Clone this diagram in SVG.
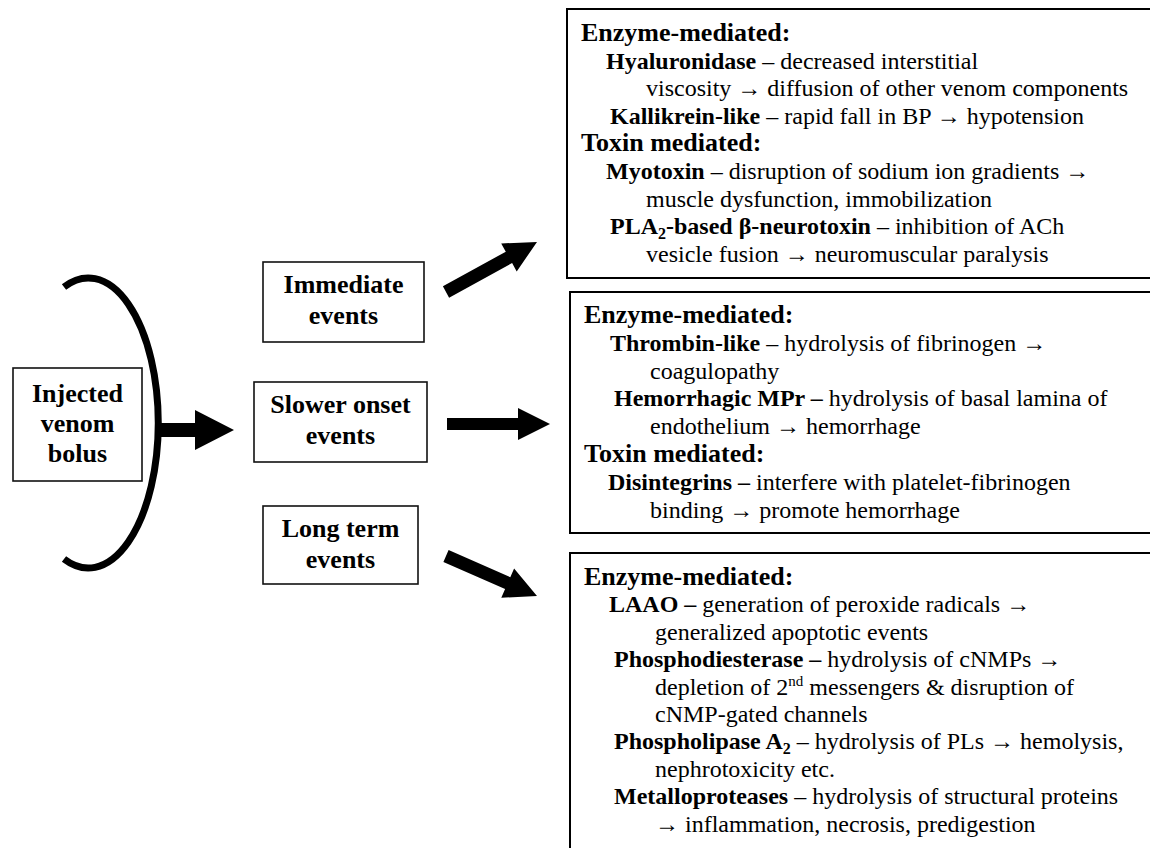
<svg xmlns="http://www.w3.org/2000/svg" width="1150" height="848" viewBox="0 0 1150 848" font-family="'Liberation Serif', Tinos, 'Times New Roman', 'DejaVu Serif', 'Noto Serif', serif">
<style>
text{font-family:'Liberation Serif', Tinos, 'Times New Roman', 'DejaVu Serif', 'Noto Serif', serif;fill:#000;}
.lbl{font-size:26px;font-weight:bold;text-anchor:middle;}
.hd{font-size:26px;font-weight:bold;}
.tx{font-size:24px;}
.b{font-weight:bold;}
.box{fill:#fff;stroke:#000;stroke-width:2;}
.bx{fill:#fff;stroke:#111;stroke-width:1.6;}
.arr{fill:#000;stroke:none;}
</style>
<rect width="1150" height="848" fill="#fff"/>
<g id="connectors">
<path d="M 64 287 A 70 145 0 1 1 64 559" fill="none" stroke="#000" stroke-width="7"/>
<polygon class="arr" points="155,423 195,423 195,410 234,430 195,450 195,437 155,437"/>
<polygon class="arr" points="442.9,286.3 505.8,251.7 501.2,243.4 537,242 516.7,271.4 512.1,263.1 449.1,297.7"/>
<polygon class="arr" points="447,418 518,418 518,408 550,424 518,440 518,430 447,430"/>
<polygon class="arr" points="448.6,550.1 510.3,577.2 514.1,568.5 537,596 501.3,597.8 505.1,589.1 443.4,562"/>
</g>
<g id="injected">
<rect class="bx" x="13" y="368" width="129" height="113"/>
<text class="lbl" x="77.5" y="402">Injected</text>
<text class="lbl" x="77.5" y="432">venom</text>
<text class="lbl" x="77.5" y="462">bolus</text>
</g>
<g id="immediate">
<rect class="bx" x="263" y="262" width="161" height="80"/>
<text class="lbl" x="343.5" y="293">Immediate</text>
<text class="lbl" x="343.5" y="324">events</text>
</g>
<g id="slower">
<rect class="bx" x="254" y="382" width="173" height="80"/>
<text class="lbl" x="340.5" y="413">Slower onset</text>
<text class="lbl" x="340.5" y="444">events</text>
</g>
<g id="longterm">
<rect class="bx" x="263" y="506" width="155" height="78"/>
<text class="lbl" x="340.5" y="537">Long term</text>
<text class="lbl" x="340.5" y="568">events</text>
</g>
<g id="immediate-effects">
<rect class="box" x="567" y="9" width="600" height="269"/>
<text class="hd" x="581" y="41">Enzyme-mediated:</text>
<text class="tx" x="606" y="68.6"><tspan class="b">Hyaluronidase</tspan> – decreased interstitial</text>
<text class="tx" x="646" y="96.2">viscosity → diffusion of other venom components</text>
<text class="tx" x="610" y="123.8"><tspan class="b">Kallikrein-like</tspan> – rapid fall in BP → hypotension</text>
<text class="hd" x="581" y="151.4">Toxin mediated:</text>
<text class="tx" x="606" y="179"><tspan class="b">Myotoxin</tspan> – disruption of sodium ion gradients →</text>
<text class="tx" x="646" y="206.6">muscle dysfunction, immobilization</text>
<text class="tx" x="610" y="234.2"><tspan class="b">PLA</tspan><tspan class="b" font-size="16" dy="5">2</tspan><tspan class="b" dy="-5">-based β-neurotoxin</tspan> – inhibition of ACh</text>
<text class="tx" x="646" y="261.8">vesicle fusion → neuromuscular paralysis</text>
</g>
<g id="slower-effects">
<rect class="box" x="570" y="292" width="600" height="241"/>
<text class="hd" x="584" y="323">Enzyme-mediated:</text>
<text class="tx" x="610" y="351"><tspan class="b">Thrombin-like</tspan> – hydrolysis of fibrinogen →</text>
<text class="tx" x="650" y="378.5">coagulopathy</text>
<text class="tx" x="614" y="406"><tspan class="b">Hemorrhagic MPr –</tspan> hydrolysis of basal lamina of</text>
<text class="tx" x="650" y="434">endothelium → hemorrhage</text>
<text class="hd" x="584" y="462">Toxin mediated:</text>
<text class="tx" x="608" y="490"><tspan class="b">Disintegrins –</tspan> interfere with platelet-fibrinogen</text>
<text class="tx" x="650" y="518">binding → promote hemorrhage</text>
</g>
<g id="longterm-effects">
<rect class="box" x="570" y="553" width="600" height="320"/>
<text class="hd" x="584" y="585">Enzyme-mediated:</text>
<text class="tx" x="609" y="612.4"><tspan class="b">LAAO –</tspan> generation of peroxide radicals →</text>
<text class="tx" x="655" y="639.8">generalized apoptotic events</text>
<text class="tx" x="614" y="667.2"><tspan class="b">Phosphodiesterase –</tspan> hydrolysis of cNMPs →</text>
<text class="tx" x="655" y="694.6">depletion of 2<tspan font-size="15" dy="-9">nd</tspan><tspan dy="9"> messengers &amp; disruption of</tspan></text>
<text class="tx" x="655" y="722">cNMP-gated channels</text>
<text class="tx" x="614" y="749.4"><tspan class="b">Phospholipase A</tspan><tspan class="b" font-size="16" dy="5">2</tspan><tspan dy="-5"> – hydrolysis of PLs → hemolysis,</tspan></text>
<text class="tx" x="655" y="776.8">nephrotoxicity etc.</text>
<text class="tx" x="614" y="804.2"><tspan class="b">Metalloproteases</tspan> – hydrolysis of structural proteins</text>
<text class="tx" x="655" y="831.6">→ inflammation, necrosis, predigestion</text>
</g>
</svg>
